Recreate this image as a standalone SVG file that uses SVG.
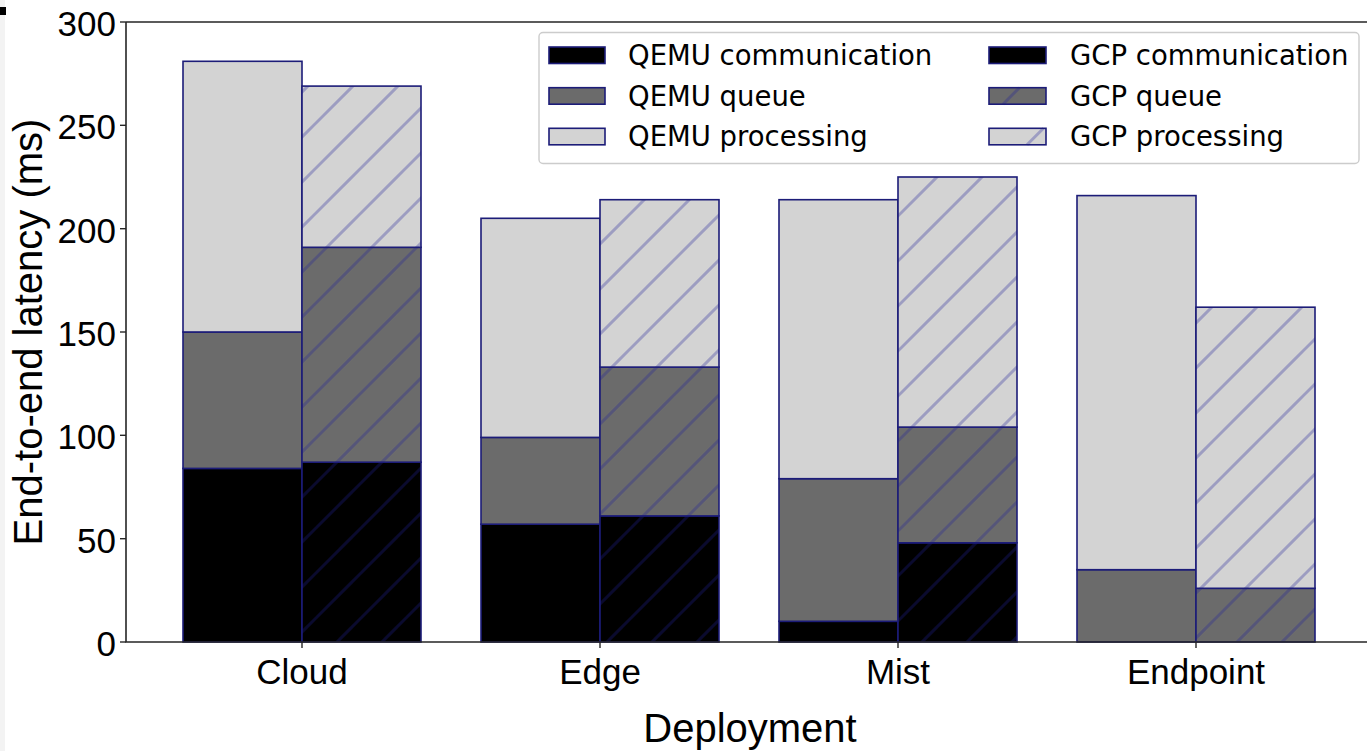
<svg xmlns="http://www.w3.org/2000/svg" width="1367" height="751" viewBox="0 0 1367 751">
  <style>
    .comm { fill: #000000; }
    .queue { fill: #6b6b6b; }
    .proc { fill: #d3d3d3; }
    .edge { fill: none; stroke: #1c1c78; stroke-width: 1.6; }
    .hatch { fill: url(#diag); stroke: #1c1c78; stroke-width: 1.6; }
    .spine { stroke: #262626; stroke-width: 1.6; fill: none; }
    .tick { stroke: #262626; stroke-width: 1.4; }
    .ticklabel { font-family: "Liberation Sans", Arial, sans-serif; font-size: 35px; fill: #000; }
    .axislabel { font-family: "Liberation Sans", Arial, sans-serif; font-size: 40px; fill: #000; }
    .legtext { font-family: "DejaVu Sans", sans-serif; font-size: 27.5px; fill: #000; }
    .hline { stroke: #22229a; stroke-opacity: 0.3; stroke-width: 3; }
  </style>
  <defs>
    <!-- forward-slash hatch used for the GCP segments -->
    <pattern id="diag" patternUnits="userSpaceOnUse" x="0" y="0" width="45" height="45">
      <path d="M-5,39 L39,-5 M29,50 L50,29" stroke="#22229a" stroke-opacity="0.3" stroke-width="3" fill="none"/>
    </pattern>
  </defs>

  <rect x="0" y="0" width="1367" height="751" fill="#ffffff"/>
  <rect x="0" y="0" width="5" height="751" fill="#f3f3f3"/>
  <rect x="0" y="7" width="6" height="8" fill="#000000"/>

  <!-- Cloud -->
  <g id="cloud">
    <rect class="comm" x="183" y="468.4" width="119" height="173.6"/>
    <rect class="edge" x="183" y="468.4" width="119" height="173.6"/>
    <rect class="queue" x="183" y="332" width="119" height="136.4"/>
    <rect class="edge" x="183" y="332" width="119" height="136.4"/>
    <rect class="proc" x="183" y="61.3" width="119" height="270.7"/>
    <rect class="edge" x="183" y="61.3" width="119" height="270.7"/>

    <rect class="comm" x="302" y="462.2" width="119" height="179.8"/>
    <rect class="hatch" x="302" y="462.2" width="119" height="179.8"/>
    <rect class="queue" x="302" y="247.3" width="119" height="214.9"/>
    <rect class="hatch" x="302" y="247.3" width="119" height="214.9"/>
    <rect class="proc" x="302" y="86.1" width="119" height="161.2"/>
    <rect class="hatch" x="302" y="86.1" width="119" height="161.2"/>
  </g>

  <!-- Edge -->
  <g id="edge">
    <rect class="comm" x="481" y="524.2" width="119" height="117.8"/>
    <rect class="edge" x="481" y="524.2" width="119" height="117.8"/>
    <rect class="queue" x="481" y="437.4" width="119" height="86.8"/>
    <rect class="edge" x="481" y="437.4" width="119" height="86.8"/>
    <rect class="proc" x="481" y="218.3" width="119" height="219.1"/>
    <rect class="edge" x="481" y="218.3" width="119" height="219.1"/>

    <rect class="comm" x="600" y="515.9" width="119" height="126.1"/>
    <rect class="hatch" x="600" y="515.9" width="119" height="126.1"/>
    <rect class="queue" x="600" y="367.1" width="119" height="148.8"/>
    <rect class="hatch" x="600" y="367.1" width="119" height="148.8"/>
    <rect class="proc" x="600" y="199.7" width="119" height="167.4"/>
    <rect class="hatch" x="600" y="199.7" width="119" height="167.4"/>
  </g>

  <!-- Mist -->
  <g id="mist">
    <rect class="comm" x="779" y="621.3" width="119" height="20.7"/>
    <rect class="edge" x="779" y="621.3" width="119" height="20.7"/>
    <rect class="queue" x="779" y="478.7" width="119" height="142.6"/>
    <rect class="edge" x="779" y="478.7" width="119" height="142.6"/>
    <rect class="proc" x="779" y="199.7" width="119" height="279"/>
    <rect class="edge" x="779" y="199.7" width="119" height="279"/>

    <rect class="comm" x="898" y="542.8" width="119" height="99.2"/>
    <rect class="hatch" x="898" y="542.8" width="119" height="99.2"/>
    <rect class="queue" x="898" y="427.1" width="119" height="115.7"/>
    <rect class="hatch" x="898" y="427.1" width="119" height="115.7"/>
    <rect class="proc" x="898" y="177" width="119" height="250.1"/>
    <rect class="hatch" x="898" y="177" width="119" height="250.1"/>
  </g>

  <!-- Endpoint -->
  <g id="endpoint">
    <rect class="queue" x="1077" y="569.7" width="119" height="72.3"/>
    <rect class="edge" x="1077" y="569.7" width="119" height="72.3"/>
    <rect class="proc" x="1077" y="195.6" width="119" height="374.1"/>
    <rect class="edge" x="1077" y="195.6" width="119" height="374.1"/>

    <rect class="queue" x="1196" y="588.3" width="119" height="53.7"/>
    <rect class="hatch" x="1196" y="588.3" width="119" height="53.7"/>
    <rect class="proc" x="1196" y="307.2" width="119" height="281.1"/>
    <rect class="hatch" x="1196" y="307.2" width="119" height="281.1"/>
  </g>

  <!-- axes -->
  <g id="axes">
    <path class="spine" d="M126,22 H1367 M126,22 V642 H1367"/>
    <g class="tick">
      <line x1="120" y1="642" x2="126" y2="642"/>
      <line x1="120" y1="538.7" x2="126" y2="538.7"/>
      <line x1="120" y1="435.3" x2="126" y2="435.3"/>
      <line x1="120" y1="332" x2="126" y2="332"/>
      <line x1="120" y1="228.7" x2="126" y2="228.7"/>
      <line x1="120" y1="125.3" x2="126" y2="125.3"/>
      <line x1="120" y1="22" x2="126" y2="22"/>
      <line x1="302" y1="642" x2="302" y2="648"/>
      <line x1="600" y1="642" x2="600" y2="648"/>
      <line x1="898" y1="642" x2="898" y2="648"/>
      <line x1="1196" y1="642" x2="1196" y2="648"/>
    </g>
    <g class="ticklabel" text-anchor="end">
      <text x="116" y="656">0</text>
      <text x="116" y="552.5">50</text>
      <text x="116" y="449">100</text>
      <text x="116" y="345.5">150</text>
      <text x="116" y="242.5">200</text>
      <text x="116" y="139">250</text>
      <text x="116" y="36">300</text>
    </g>
    <g class="ticklabel" text-anchor="middle">
      <text x="302" y="684">Cloud</text>
      <text x="600" y="684">Edge</text>
      <text x="898" y="684">Mist</text>
      <text x="1196" y="684">Endpoint</text>
    </g>
    <text class="axislabel" text-anchor="middle" x="750" y="742">Deployment</text>
    <text class="axislabel" text-anchor="middle" transform="translate(42,332) rotate(-90)">End-to-end latency (ms)</text>
  </g>

  <!-- legend -->
  <g id="legend">
    <rect x="539" y="32.5" width="820" height="131" rx="4" ry="4" fill="#ffffff" fill-opacity="0.85" stroke="#cccccc" stroke-width="1.4"/>
    <rect class="comm" x="549" y="47" width="56" height="16.5"/>
    <rect class="edge" x="549" y="47" width="56" height="16.5"/>
    <rect class="queue" x="549" y="87.7" width="56" height="16.5"/>
    <rect class="edge" x="549" y="87.7" width="56" height="16.5"/>
    <rect class="proc" x="549" y="128.3" width="56" height="16.5"/>
    <rect class="edge" x="549" y="128.3" width="56" height="16.5"/>
    <text class="legtext" x="628" y="65">QEMU communication</text>
    <text class="legtext" x="628" y="105.7">QEMU queue</text>
    <text class="legtext" x="628" y="146.3">QEMU processing</text>

    <rect class="comm" x="989" y="47" width="57" height="16.5"/>
    <rect class="edge" x="989" y="47" width="57" height="16.5"/>
    <rect class="queue" x="989" y="87.7" width="57" height="16.5"/>
    <line class="hline" x1="1003" y1="104.2" x2="1019.5" y2="87.7"/>
    <rect class="edge" x="989" y="87.7" width="57" height="16.5"/>
    <rect class="proc" x="989" y="128.3" width="57" height="16.5"/>
    <line class="hline" x1="1027" y1="144.8" x2="1043.5" y2="128.3"/>
    <rect class="edge" x="989" y="128.3" width="57" height="16.5"/>
    <text class="legtext" x="1070" y="65">GCP communication</text>
    <text class="legtext" x="1070" y="105.7">GCP queue</text>
    <text class="legtext" x="1070" y="146.3">GCP processing</text>
  </g>
</svg>
